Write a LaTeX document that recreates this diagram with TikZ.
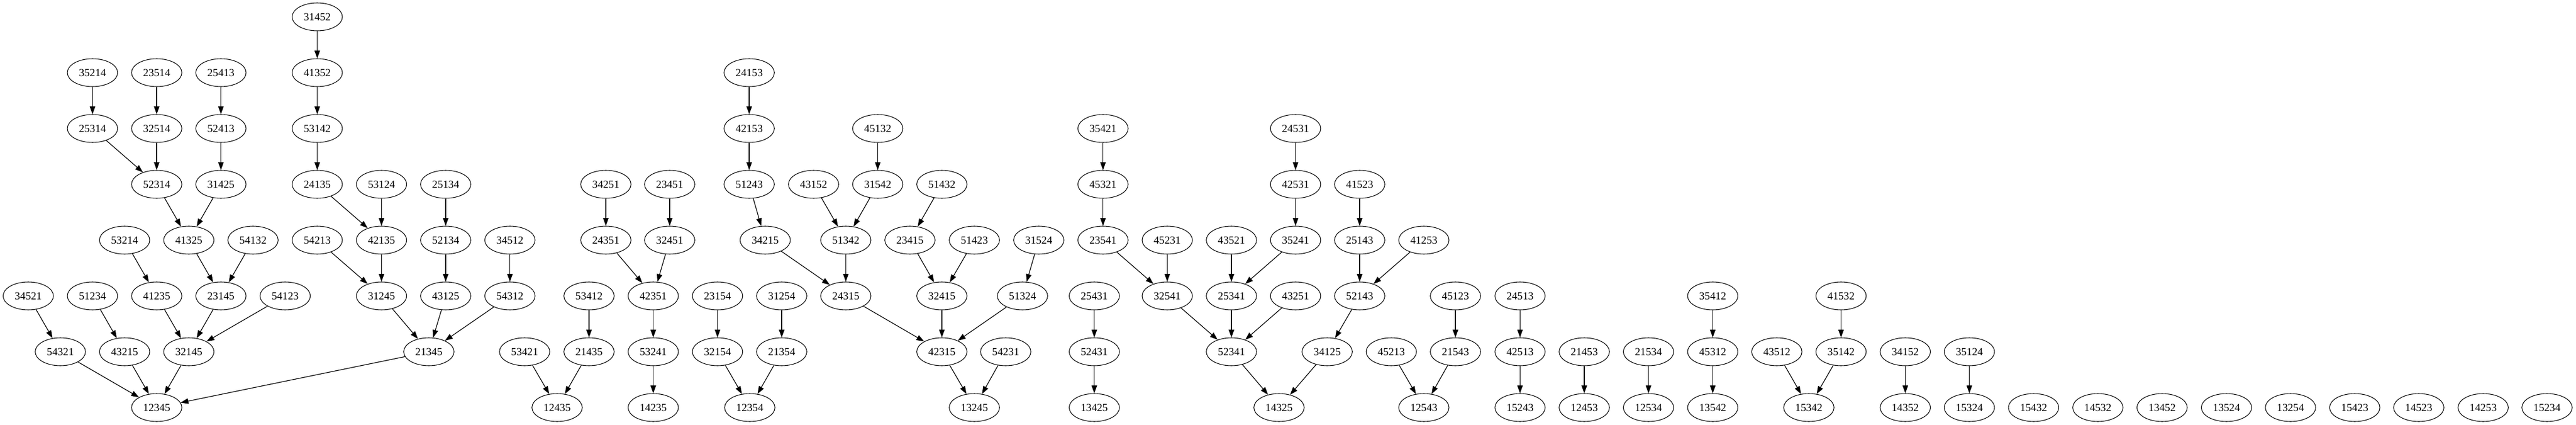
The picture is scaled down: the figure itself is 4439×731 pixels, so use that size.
\documentclass[tikz,border=0pt]{standalone}
\usepackage{fontspec}
\setmainfont{Liberation Serif}
\usetikzlibrary{shapes.geometric,arrows.meta}
\tikzset{
  pnode/.style={draw, ellipse, line width=0.8pt, minimum width=65pt, minimum height=36pt, inner sep=0pt, font=\fontsize{14pt}{16pt}\selectfont},
  pedge/.style={draw, line width=0.9pt, -{Triangle[length=10pt,width=7pt]}}
}
\begin{document}
\begin{tikzpicture}[x=0.75pt,y=-0.75pt]
\useasboundingbox (0,0) rectangle (4439,731);
% row 0
\foreach \n/\x in {31452/546.7}
  \node[pnode] (n\n) at (\x,29) {\n};
% row 1
\foreach \n/\x in {35214/159.4, 23514/270, 25413/380.7, 41352/546.7, 24153/1291}
  \node[pnode] (n\n) at (\x,125) {\n};
% row 2
\foreach \n/\x in {25314/159.4, 32514/270, 52413/380.7, 53142/546.7, 42153/1291, 45132/1512.5, 35421/1900.7, 24531/2232.5}
  \node[pnode] (n\n) at (\x,221) {\n};
% row 3
\foreach \n/\x in {52314/270, 31425/380.7, 24135/546.7, 53124/657.4, 25134/768, 34251/1044, 23451/1154, 51243/1291, 43152/1402, 31542/1512.5, 51432/1623, 45321/1900.7, 42531/2232.5, 41523/2343}
  \node[pnode] (n\n) at (\x,317) {\n};
% row 4
\foreach \n/\x in {53214/214.7, 41325/325.4, 54132/436, 54213/546.7, 42135/657.4, 52134/768, 34512/878.7, 24351/1044, 32451/1154, 34215/1318.6, 51342/1457.5, 23415/1568, 51423/1679, 31524/1790, 23541/1900.7, 45231/2011.4, 43521/2122, 35241/2232.5, 25143/2343, 41253/2453.6}
  \node[pnode] (n\n) at (\x,413) {\n};
% row 5
\foreach \n/\x in {34521/48.7, 51234/159.4, 41235/270, 23145/380.7, 54123/491.4, 31245/657.4, 43125/768, 54312/878.7, 53412/1015, 42351/1125.7, 23154/1236.4, 31254/1347, 24315/1457.5, 32415/1623, 51324/1762, 25431/1885.7, 32541/2011.4, 25341/2122, 43251/2232.5, 52143/2343, 45123/2508, 24513/2619.3, 35412/2951.4, 41532/3172.5}
  \node[pnode] (n\n) at (\x,509) {\n};
% row 6
\foreach \n/\x in {54321/104, 43215/214.7, 32145/325.4, 21345/739, 53421/904, 21435/1015, 53241/1125.7, 32154/1236.4, 21354/1347, 42315/1623, 54231/1733, 52431/1885.7, 52341/2122, 34125/2287, 45213/2397.5, 21543/2508, 42513/2619.3, 21453/2730, 21534/2840.7, 45312/2951.4, 43512/3061.8, 35142/3172.5, 34152/3283.2, 35124/3393.6}
  \node[pnode] (n\n) at (\x,605) {\n};
% row 7
\foreach \n/\x in {12345/270, 12435/960, 14235/1125.7, 12354/1292, 13245/1679, 13425/1885.7, 14325/2204, 12543/2453.6, 15243/2619.3, 12453/2730, 12534/2840.7, 13542/2951.4, 15342/3117, 14352/3283.2, 15324/3393.6, 15432/3504.3, 14532/3615, 13452/3725.7, 13524/3836.7, 13254/3947, 15423/4057.7, 14523/4168, 14253/4279, 15234/4389}
  \node[pnode] (n\n) at (\x,701) {\n};
% edges
\foreach \a/\b in {31452/41352, 41352/53142, 53142/24135, 24135/42135,
  35214/25314, 25314/52314, 23514/32514, 32514/52314, 25413/52413, 52413/31425,
  52314/41325, 31425/41325, 53214/41235, 41325/23145, 54132/23145,
  34521/54321, 51234/43215, 41235/32145, 23145/32145, 54123/32145,
  54321/12345, 43215/12345, 32145/12345, 21345/12345,
  53124/42135, 25134/52134, 54213/31245, 42135/31245, 52134/43125, 34512/54312,
  31245/21345, 43125/21345, 54312/21345,
  34251/24351, 24351/42351, 23451/32451, 32451/42351, 42351/53241, 53241/14235,
  53412/21435, 53421/12435, 21435/12435,
  24153/42153, 42153/51243, 51243/34215, 34215/24315,
  45132/31542, 31542/51342, 43152/51342, 51342/24315,
  51432/23415, 23415/32415, 51423/32415, 24315/42315, 32415/42315,
  23154/32154, 32154/12354, 31254/21354, 21354/12354,
  31524/51324, 51324/42315, 42315/13245, 54231/13245,
  35421/45321, 45321/23541, 23541/32541, 45231/32541, 32541/52341,
  43521/25341, 35241/25341, 25341/52341, 43251/52341,
  25431/52431, 52431/13425, 52341/14325,
  24531/42531, 42531/35241, 41523/25143, 25143/52143, 41253/52143,
  52143/34125, 34125/14325, 45213/12543, 45123/21543, 21543/12543,
  24513/42513, 42513/15243, 21453/12453, 21534/12534,
  35412/45312, 45312/13542, 43512/15342, 41532/35142, 35142/15342,
  34152/14352, 35124/15324}
  \draw[pedge] (n\a) -- (n\b);
\end{tikzpicture}
\end{document}
